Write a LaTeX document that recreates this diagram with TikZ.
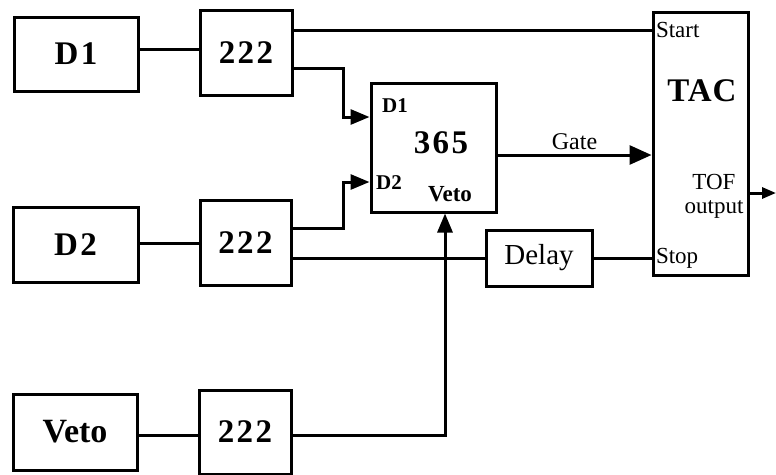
\documentclass[tikz,border=0pt]{standalone}
\usepackage{fontspec}
\setmainfont{Liberation Serif}
\usetikzlibrary{arrows.meta}

\begin{document}
\begin{tikzpicture}[x=1pt, y=-1pt, line width=3pt,
        box/.style={draw, rectangle, inner sep=0pt},
        big/.style={font=\fontsize{33}{36}\selectfont\bfseries\addfontfeature{LetterSpace=7}},
        small/.style={font=\fontsize{23}{24}\selectfont},
        sig/.style={-{Triangle[length=19pt,width=15pt]}}]
        \useasboundingbox (0,0) rectangle (776,474);

        % Detectors
        \node[box, big, minimum width=124, minimum height=74] (D1) at (76,54) {D1};
        \node[box, big, minimum width=125, minimum height=75] (D2) at (75.5,245) {D2};
        \node[box, big, font=\fontsize{34}{36}\selectfont\bfseries, minimum width=124, minimum height=76] (Veto) at (75,432) {Veto};

        % 222 units
        \node[box, big, minimum width=92, minimum height=85] (a1) at (246,52.5) {222};
        \node[box, big, minimum width=91, minimum height=85] (a2) at (245.5,242.5) {222};
        \node[box, big, minimum width=92, minimum height=84] (a3) at (245,432) {222};

        % Coincidence, delay, TAC
        \node[box, minimum width=125, minimum height=129] (coinc) at (433.5,147.5) {};
        \node[big] (c365) at (441,143) {365};
        \node[font=\fontsize{21}{22}\selectfont\bfseries] (cd1) at (395,106) {D1};
        \node[font=\fontsize{21}{22}\selectfont\bfseries] (cd2) at (389,183) {D2};
        \node[font=\fontsize{23}{24}\selectfont\bfseries] (cveto) at (450,194) {Veto};
        \node[box, font=\fontsize{29}{32}\selectfont, minimum width=106, minimum height=56] (delay) at (539,258) {Delay};
        \node[box, minimum width=95, minimum height=263] (TAC) at (700.5,143.5) {};
        \node[font=\fontsize{33}{36}\selectfont\bfseries\addfontfeature{LetterSpace=3}] (tac) at (702,91) {TAC};
        \node[small, align=center, inner sep=0pt] (tof) at (714,196) {TOF\\[0pt]output};

        % ports
        \coordinate (start) at (TAC.west |- 0,30);
        \coordinate (gate) at (TAC.west |- 0,155);
        \coordinate (out) at (776,193);
        \node[small, anchor=west, inner sep=3pt] (startlbl) at (start) {Start};
        \node[small, anchor=west, inner sep=3pt] (stoplbl) at (TAC.west |- delay) {Stop};

        % D1 branch
        \draw (D1.east |- 0,49) -- (a1.west |- 0,49);
        \draw (a1.east |- start) -- (start);
        \draw[sig] (a1.east |- 0,68) -| (343,117) -- (coinc.west |- 0,117);

        % D2 branch
        \draw (D2.east |- 0,243) -- (a2.west |- 0,243);
        \draw[sig] (a2.east |- 0,228) -| (343,182) -- (coinc.west |- 0,182);
        \draw (a2.east |- delay) -- (delay.west);
        \draw (delay.east) -- (TAC.west |- delay.east);

        % Veto branch
        \draw (Veto.east |- 0,435) -- (a3.west |- 0,435);
        \draw[sig] (a3.east |- 0,435) -| (coinc.south -| 445,0);

        % Gate and output
        \draw[-{Triangle[length=22pt,width=19pt]}] (coinc.east |- gate) -- node[above, font=\fontsize{24}{26}\selectfont] {Gate} (gate);
        \draw[-{Triangle[length=14pt,width=11pt]}] (TAC.east |- out) -- (out);

    \end{tikzpicture}
\end{document}
